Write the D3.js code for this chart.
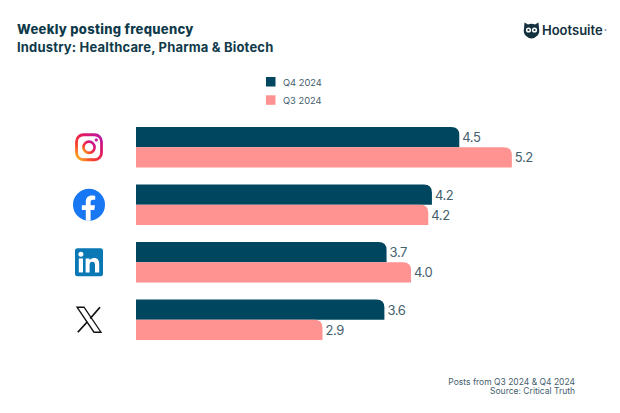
<!DOCTYPE html>
<html>
<head>
<meta charset="utf-8">
<script src="https://cdn.jsdelivr.net/npm/d3@7"></script>
<style>
  html, body { margin: 0; padding: 0; background: #fff; }
  text { font-family: Inter, "Open Sans", sans-serif; }
</style>
</head>
<body>
<div id="chart"></div>
<script>
// Data. Printed labels are rounded differently from the drawn bar lengths.
const platforms = ['instagram', 'facebook', 'linkedin', 'x'];
const q4Lengths = [4.49, 4.11, 3.48, 3.45];
const q3Lengths = [5.22, 4.06, 3.82, 2.59];
const q4Labels = ['4.5', '4.2', '3.7', '3.6'];
const q3Labels = ['5.2', '4.2', '4.0', '2.9'];
const seriesNames = ['Q4 2024', 'Q3 2024'];

const titleLines = ['Weekly posting frequency', 'Industry: Healthcare, Pharma & Biotech'];
const sourceLines = ['Posts from Q3 2024 & Q4 2024', 'Source: Critical Truth'];

const width = 620;
const height = 413;
const dark = '#00465f';
const pink = '#ff9391';
const inkDark = '#0f3a4a';
const inkSoft = '#44606d';

const svg = d3.select('#chart').append('svg')
    .attr('width', width)
    .attr('height', height)
    .style('display', 'block');

const x = d3.scaleLinear().domain([0, 5]).range([136, 496]);
const y = d3.scaleBand().domain(platforms).range([127, 340]).paddingInner(0.295).paddingOuter(0);
const inner = d3.scaleBand().domain(seriesNames).range([0, y.bandwidth()]);
const colors = d3.scaleOrdinal().domain(seriesNames).range([dark, pink]);

// Bar with only the top right corner rounded
function barPath(x0, x1, y0, y1, r) {
    return `M${x0},${y0}H${x1 - r}Q${x1},${y0} ${x1},${y0 + r}V${y1}H${x0}Z`;
}

const rows = [
    { name: seriesNames[0], lengths: q4Lengths, labels: q4Labels },
    { name: seriesNames[1], lengths: q3Lengths, labels: q3Labels }
];

rows.forEach(row => {
    const g = svg.append('g');
    g.selectAll('path')
        .data(platforms)
        .enter().append('path')
        .attr('fill', colors(row.name))
        .attr('d', (p, i) => {
            const top = y(p) + inner(row.name);
            return barPath(x(0), x(row.lengths[i]), top, top + inner.bandwidth(), 8);
        });
    g.selectAll('text')
        .data(platforms)
        .enter().append('text')
        .attr('x', (p, i) => x(row.lengths[i]) + 3)
        .attr('y', p => y(p) + inner(row.name) + inner.bandwidth() / 2 + 5)
        .attr('fill', inkSoft)
        .style('font-size', '13px')
        .style('letter-spacing', '-0.4px')
        .text((p, i) => row.labels[i]);
});

// Titles
svg.selectAll('.title')
    .data(titleLines)
    .enter().append('text')
    .attr('class', 'title')
    .attr('x', 17)
    .attr('y', (d, i) => 34 + i * 18)
    .attr('fill', inkDark)
    .style('font-size', '13px')
    .style('font-weight', (d, i) => i === 0 ? 800 : 700)
    .style('letter-spacing', (d, i) => i === 0 ? '0.3px' : '0.18px')
    .text(d => d);

// Legend
const legend = svg.selectAll('.legend')
    .data(seriesNames)
    .enter().append('g')
    .attr('class', 'legend')
    .attr('transform', (d, i) => `translate(266,${77 + i * 18.3})`);
legend.append('rect')
    .attr('width', 9.5)
    .attr('height', 9.5)
    .attr('fill', d => colors(d));
legend.append('text')
    .attr('x', 17)
    .attr('y', 8.6)
    .attr('fill', inkSoft)
    .style('font-size', '9.3px')
    .text(d => d);

// Source
svg.selectAll('.source')
    .data(sourceLines)
    .enter().append('text')
    .attr('class', 'source')
    .attr('x', 575)
    .attr('y', (d, i) => 385.3 + i * 9)
    .attr('text-anchor', 'end')
    .attr('fill', inkSoft)
    .style('font-size', '8.5px')
    .text(d => d);

// Platform icons, centred on each row
const defs = svg.append('defs');
const grad = defs.append('linearGradient')
    .attr('id', 'ig')
    .attr('x1', 0).attr('y1', 1).attr('x2', 1).attr('y2', 0);
[['0%', '#fdc31f'], ['30%', '#f9402a'], ['65%', '#e01a66'], ['100%', '#b516a8']].forEach(s => {
    grad.append('stop').attr('offset', s[0]).attr('stop-color', s[1]);
});

const iconX = 89;
function icon(p) {
    return svg.append('g').attr('transform', `translate(${iconX},${y(p) + y.bandwidth() / 2})`);
}

const ig = icon('instagram');
ig.append('rect').attr('x', -12.5).attr('y', -12.5).attr('width', 25).attr('height', 25).attr('rx', 7)
    .attr('fill', 'none').attr('stroke', 'url(#ig)').attr('stroke-width', 2.8);
ig.append('circle').attr('r', 5.6).attr('fill', 'none').attr('stroke', 'url(#ig)').attr('stroke-width', 2.6);
ig.append('circle').attr('cx', 7.3).attr('cy', -7.3).attr('r', 1.6).attr('fill', '#c5189a');

const fb = icon('facebook');
fb.append('circle').attr('r', 16).attr('fill', '#1877f2');
fb.append('path').attr('fill', '#fff')
    .attr('d', 'M-3.2,16V5.2H-7.2V0.6H-3.2V-3C-3.2,-7 -0.8,-9.2 2.8,-9.2C4.5,-9.2 6.2,-8.9 6.2,-8.9V-5H4.2C2.2,-5 1.6,-3.8 1.6,-2.5V0.6H6L5.3,5.2H1.6V16Z');

const li = icon('linkedin');
li.append('rect').attr('x', -14).attr('y', -14).attr('width', 28).attr('height', 28).attr('rx', 2.5).attr('fill', '#0a78b5');
li.append('rect').attr('x', -10.2).attr('y', -3.8).attr('width', 4.2).attr('height', 14).attr('fill', '#fff');
li.append('circle').attr('cx', -8.1).attr('cy', -8.1).attr('r', 2.5).attr('fill', '#fff');
li.append('path').attr('fill', '#fff')
    .attr('d', 'M-3.4,-3.8H0.6V-1.9C1.4,-3.2 2.9,-4.2 5,-4.2C9.2,-4.2 10.2,-1.5 10.2,2.2V10.2H6V3C6,1.2 5.6,-0.6 3.3,-0.6C1,-0.6 0.6,1.2 0.6,3V10.2H-3.4Z');

const xi = icon('x');
xi.append('path').attr('fill', 'none').attr('stroke', '#111').attr('stroke-width', 1.3)
    .attr('stroke-linejoin', 'miter')
    .attr('d', 'M-12,-12.5H-5L12,12.5H5Z');
xi.append('path').attr('fill', 'none').attr('stroke', '#111').attr('stroke-width', 1.8)
    .attr('d', 'M11,-12.5L1.2,-1.2M-1.6,2L-11.2,12.5');

// Hootsuite logo
const logo = svg.append('g').attr('transform', 'translate(531.5,30.5)');
logo.append('path').attr('fill', '#12303d')
    .attr('d', 'M-7,-8L-3.5,-6Q0,-7.5 3.5,-6L7,-8L7.5,-2Q8.5,2 6,5Q3,8 0,8Q-3,8 -6,5Q-8.5,2 -7.5,-2Z');
logo.append('circle').attr('cx', -3).attr('cy', -0.5).attr('r', 2.6).attr('fill', '#fff');
logo.append('circle').attr('cx', 3).attr('cy', -0.5).attr('r', 2.6).attr('fill', '#fff');
logo.append('circle').attr('cx', -3).attr('cy', -0.5).attr('r', 1.1).attr('fill', '#12303d');
logo.append('circle').attr('cx', 3).attr('cy', -0.5).attr('r', 1.1).attr('fill', '#12303d');
svg.append('text')
    .attr('x', 542)
    .attr('y', 35)
    .attr('fill', '#12303d')
    .style('font-size', '13px')
    .style('font-weight', 600)
    .text('Hootsuite');
svg.append('circle').attr('cx', 605.5).attr('cy', 30).attr('r', 1).attr('fill', '#8a9aa2');
</script>
</body>
</html>
